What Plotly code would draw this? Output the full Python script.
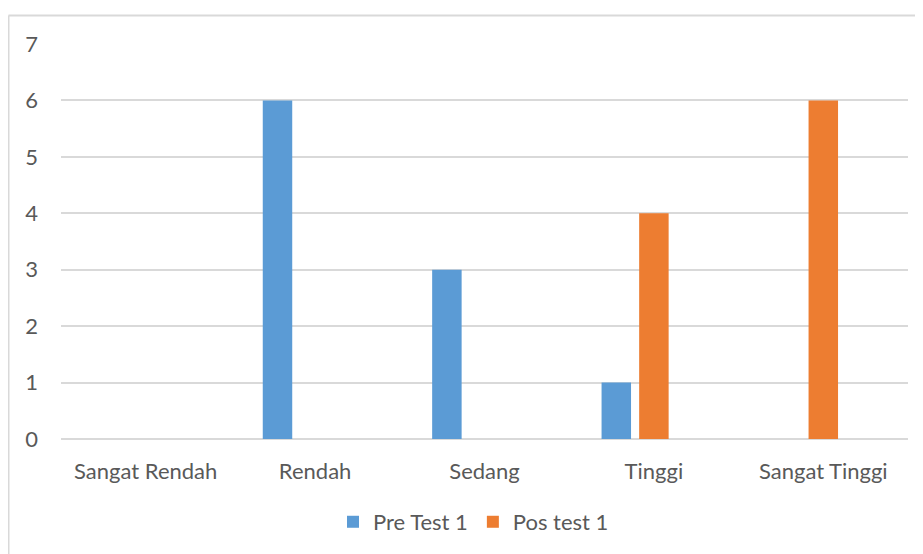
import plotly.graph_objects as go

categories = ["Sangat Rendah", "Rendah", "Sedang", "Tinggi", "Sangat Tinggi"]
pre_test = [0, 6, 3, 1, 0]
pos_test = [0, 0, 0, 4, 6]
y_ticks = [0, 1, 2, 3, 4, 5, 6, 7]

FONT = "Lato"
GRAY = "#595959"
GRID = "#d9d9d9"

fig = go.Figure()
fig.add_trace(go.Bar(x=categories, y=pre_test, name="Pre Test 1",
                     marker=dict(color="#5B9BD5", line=dict(width=0)),
                     width=0.174, offset=-0.309))
fig.add_trace(go.Bar(x=categories, y=pos_test, name="Pos test 1",
                     marker=dict(color="#ED7D31", line=dict(width=0)),
                     width=0.174, offset=-0.087))

fig.update_layout(
    width=915, height=546,
    margin=dict(l=53, r=15, t=36, b=114),
    plot_bgcolor="white", paper_bgcolor="white",
    font=dict(family=FONT, size=22, color=GRAY),
    barmode="overlay",
    showlegend=True,
    legend=dict(orientation="h", x=0.487, xanchor="center", y=-0.207, yanchor="middle",
                font=dict(family=FONT, size=22, color=GRAY)),
    xaxis=dict(showgrid=False, showline=False, ticks="", ticklabelstandoff=17,
               tickfont=dict(family=FONT, size=22, color=GRAY)),
    yaxis=dict(range=[0, 7], tickvals=y_ticks, showgrid=True, gridcolor=GRID, gridwidth=1.5,
               zeroline=True, zerolinecolor=GRID, zerolinewidth=1.5, showline=False,
               ticks="", ticklabelstandoff=22,
               tickfont=dict(family=FONT, size=22, color=GRAY)),
    shapes=[
        dict(type="line", xref="paper", yref="paper", x0=-0.062, x1=1.2, y0=1.072, y1=1.072,
             line=dict(color=GRID, width=2)),
        dict(type="line", xref="paper", yref="paper", x0=-0.062, x1=-0.062, y0=1.072, y1=-0.5,
             line=dict(color=GRID, width=2)),
    ],
)

fig.write_html("out.html")
